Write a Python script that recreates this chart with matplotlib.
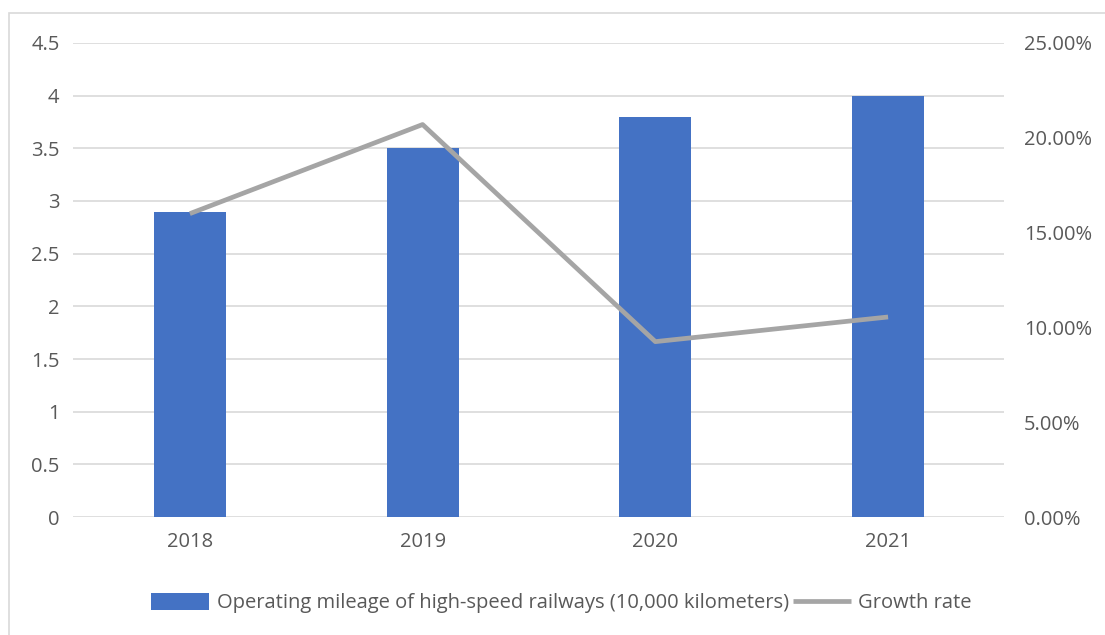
import matplotlib.pyplot as plt
from matplotlib.patches import Rectangle
from matplotlib.ticker import FuncFormatter

years = ['2018', '2019', '2020', '2021']
mileage = [2.9, 3.5, 3.8, 4.0]
growth = [16.0, 20.7, 9.25, 10.55]

plt.rcParams['font.family'] = ['Open Sans', 'DejaVu Sans']
txt = '#595959'
fs = 14.5

fig = plt.figure(figsize=(11.05, 6.35), dpi=100)
ax = fig.add_axes([0.0665, 0.1858, 0.8425, 0.7465])

# outer chart border
fig.patches.append(Rectangle((9 / 1105, -0.1), 1.2, 1.1 - 13 / 635,
                             transform=fig.transFigure, fill=False,
                             edgecolor='#D9D9D9', linewidth=1.2))

x = range(len(years))
bars = ax.bar(x, mileage, width=0.31, color='#4472C4', zorder=3,
              label='Operating mileage of high-speed railways (10,000 kilometers)')
ax.set_xlim(-0.5, len(years) - 0.5)
ax.set_ylim(0, 4.5)
ax.set_yticks([i * 0.5 for i in range(10)])
ax.yaxis.set_major_formatter(FuncFormatter(lambda v, p: f'{v:g}'))
ax.set_xticks(list(x))
ax.set_xticklabels(years)
ax.grid(axis='y', color='#D9D9D9', linewidth=1.2, zorder=0)
for s in ax.spines.values():
    s.set_visible(False)
ax.tick_params(length=0, labelsize=fs, colors=txt, pad=10)
ax.tick_params(axis='x', pad=11)

ax2 = ax.twinx()
line, = ax2.plot(x, growth, color='#A5A5A5', linewidth=3.4, zorder=4,
                 solid_capstyle='butt', label='Growth rate')
ax2.set_ylim(0, 25)
ax2.set_yticks([0, 5, 10, 15, 20, 25])
ax2.yaxis.set_major_formatter(FuncFormatter(lambda v, p: f'{v:.2f}%'))
for s in ax2.spines.values():
    s.set_visible(False)
ax2.tick_params(length=0, labelsize=fs, colors=txt, pad=14)

fig.legend([bars, line], [bars.get_label(), line.get_label()],
           loc='center', bbox_to_anchor=(0.508, 1 - 603 / 635), ncol=2,
           frameon=False, fontsize=fs, labelcolor=txt, handlelength=2.9,
           handleheight=0.9, handletextpad=0.35, columnspacing=0.2)

fig.savefig('out.png', dpi=100)
